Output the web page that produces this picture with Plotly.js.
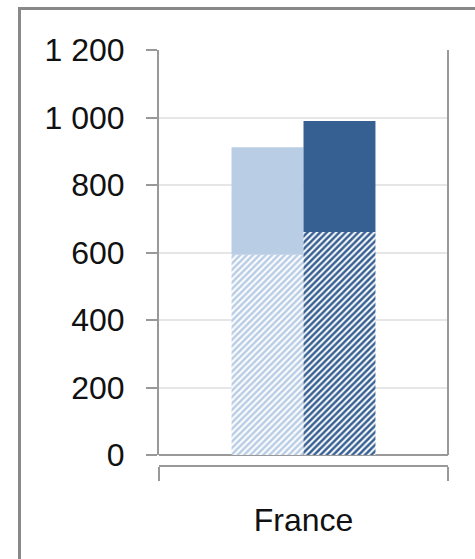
<!DOCTYPE html>
<html>
<head>
<meta charset="utf-8">
<script src="https://cdn.plot.ly/plotly-3.0.1.min.js"></script>
<style>
  html, body { margin: 0; padding: 0; background: #fff; }
  #wrap { position: relative; width: 475px; height: 559px; overflow: hidden; }
  #chart { position: absolute; left: 0; top: 0; width: 475px; height: 559px; }
  #frame { position: absolute; left: 18px; top: 7px; width: 600px; height: 700px;
           border-left: 3px solid #898989; border-top: 3px solid #898989; pointer-events: none; }
</style>
</head>
<body>
<div id="wrap">
  <div id="chart"></div>
  <div id="frame"></div>
</div>
<script>
const categories = ['France'];
const lightHatched = [593];
const lightTotal = [912];
const darkHatched = [661];
const darkTotal = [990];
const yTickVals = [0, 200, 400, 600, 800, 1000, 1200];

const lightColor = '#b9cde5';
const darkColor = '#376092';

const diff = (a, b) => a.map((v, i) => v - b[i]);

const traces = [
  {
    type: 'bar', x: categories, y: lightHatched, offsetgroup: 'a',
    marker: { color: lightColor, line: { width: 0 },
      pattern: { shape: '/', fgcolor: lightColor, bgcolor: '#ffffff', size: 4.5, solidity: 0.55, fillmode: 'replace' } },
    hoverinfo: 'skip'
  },
  {
    type: 'bar', x: categories, y: diff(lightTotal, lightHatched), base: lightHatched, offsetgroup: 'a',
    marker: { color: lightColor, line: { width: 0 } }, hoverinfo: 'skip'
  },
  {
    type: 'bar', x: categories, y: darkHatched, offsetgroup: 'b',
    marker: { color: darkColor, line: { width: 0 },
      pattern: { shape: '/', fgcolor: darkColor, bgcolor: '#ffffff', size: 4.5, solidity: 0.55, fillmode: 'replace' } },
    hoverinfo: 'skip'
  },
  {
    type: 'bar', x: categories, y: diff(darkTotal, darkHatched), base: darkHatched, offsetgroup: 'b',
    marker: { color: darkColor, line: { width: 0 } }, hoverinfo: 'skip'
  }
];

const font = 'Liberation Sans, Arial, sans-serif';

const layout = {
  width: 475, height: 559,
  margin: { l: 159, r: 27, t: 50, b: 93, pad: 0 },
  paper_bgcolor: '#ffffff', plot_bgcolor: 'rgba(0,0,0,0)',
  showlegend: false,
  barmode: 'group', bargap: 0.502, bargroupgap: 0,
  separators: ', ',
  font: { family: font, size: 32, color: '#000000' },
  xaxis: {
    type: 'category', range: [-0.5, 0.5], fixedrange: true,
    anchor: 'free', position: 0,
    showline: true, linecolor: '#999999', linewidth: 2,
    ticks: 'outside', tickson: 'boundaries', ticklen: 14, tickwidth: 2, tickcolor: '#999999',
    showgrid: false, zeroline: false,
    tickfont: { family: font, size: 32, color: '#111111' },
    ticklabelstandoff: 26
  },
  yaxis: {
    domain: [11 / 416, 1],
    range: [0, 1200], fixedrange: true,
    tickvals: yTickVals, separatethousands: true,
    showline: true, linecolor: '#999999', linewidth: 2,
    ticks: 'outside', ticklen: 11, tickwidth: 2, tickcolor: '#999999',
    showgrid: true, gridcolor: '#e6e6e6', gridwidth: 2,
    zeroline: true, zerolinecolor: '#999999', zerolinewidth: 2,
    tickfont: { family: font, size: 32, color: '#111111' },
    ticklabelstandoff: 15
  },
  shapes: [
    { type: 'line', xref: 'paper', yref: 'y domain', x0: 1, x1: 1, y0: 0, y1: 1,
      line: { color: '#999999', width: 2 } }
  ]
};

Plotly.newPlot('chart', traces, layout, { staticPlot: true, displayModeBar: false });
</script>
</body>
</html>
